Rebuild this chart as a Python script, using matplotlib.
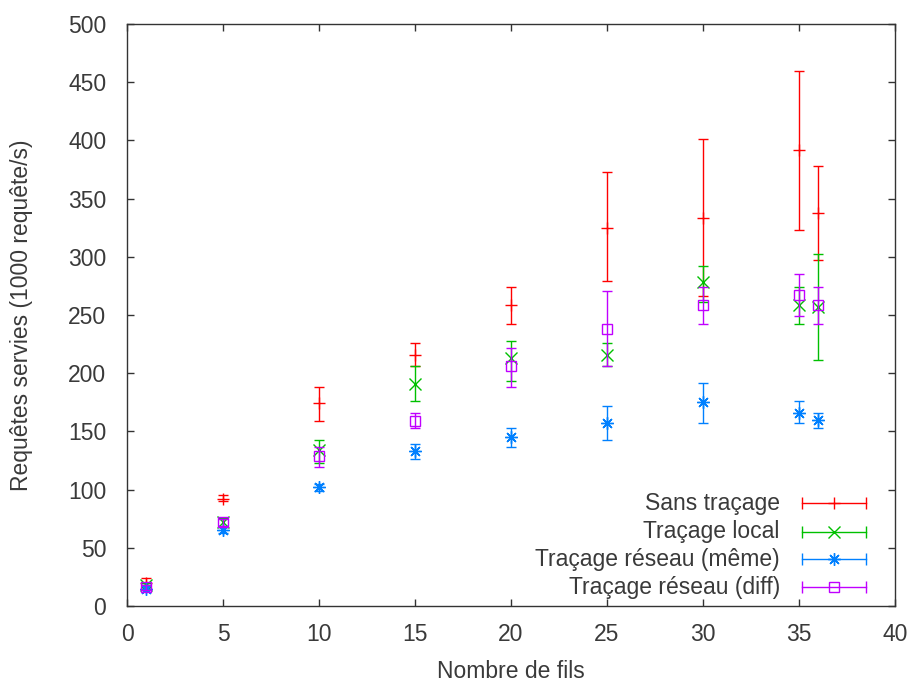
import matplotlib
matplotlib.use('Agg')
import matplotlib.pyplot as plt
import numpy as np

plt.rcParams['font.family'] = ['Liberation Sans', 'DejaVu Sans']

threads = [1, 5, 10, 15, 20, 25, 30, 35, 36]

# Sans traçage
sans = [20, 92, 174, 216, 259, 325, 333, 392, 338]
sans_lo = [17, 90, 159, 206, 242, 279, 266, 323, 297]
sans_hi = [24, 95, 188, 226, 274, 373, 401, 460, 378]

# Traçage local
local = [18, 72, 134, 191, 213, 216, 278, 259, 257]
local_lo = [16, 68, 123, 176, 193, 206, 261, 242, 211]
local_hi = [20, 76, 143, 206, 228, 226, 292, 274, 302]

# Traçage réseau (même)
meme = [15, 65, 102, 133, 145, 157, 175, 166, 160]
meme_lo = [14, 63, 99, 126, 137, 143, 157, 157, 153]
meme_hi = [17, 68, 105, 139, 153, 172, 192, 176, 166]

# Traçage réseau (diff)
diff = [16, 72, 129, 159, 206, 238, 259, 267, 259]
diff_lo = [14, 69, 119, 153, 188, 206, 242, 249, 242]
diff_hi = [18, 75, 137, 166, 222, 271, 274, 285, 274]

labels = ['Sans traçage', 'Traçage local', 'Traçage réseau (même)', 'Traçage réseau (diff)']
colors = ['#ff0000', '#00c000', '#0080ff', '#c000ff']
markers = ['+', 'x', (8, 2, 0), 's']

series = [(sans, sans_lo, sans_hi), (local, local_lo, local_hi),
          (meme, meme_lo, meme_hi), (diff, diff_lo, diff_hi)]

txt = '#3a3a3a'
fs = 16.5

fig = plt.figure(figsize=(9.1, 6.88), dpi=100)
ax = fig.add_axes([0.1396, 0.1192, 0.8439, 0.8459])

for i, (y, lo, hi) in enumerate(series):
    y = np.array(y)
    err = [y - np.array(lo), np.array(hi) - y]
    ax.errorbar(threads, y, yerr=err, fmt='none', ecolor=colors[i],
                elinewidth=1.0, capsize=3.5, capthick=1.0)
    if markers[i] == 's':
        ax.plot(threads, y, linestyle='none', marker='s', markersize=7,
                markerfacecolor='none', markeredgecolor=colors[i], markeredgewidth=1.0)
    else:
        ax.plot(threads, y, linestyle='none', marker=markers[i], markersize=9,
                color=colors[i], markeredgewidth=1.0)

# legend, gnuplot style
rows = [0.1765, 0.1277, 0.0802, 0.0321]
for i in range(4):
    yy = rows[i]
    ax.plot([0.879, 0.962], [yy, yy], color=colors[i], lw=1.0, transform=ax.transAxes, clip_on=False)
    ax.plot([0.879, 0.962], [yy, yy], linestyle='none', marker='|', markersize=8,
            color=colors[i], markeredgewidth=1.0, transform=ax.transAxes)
    if markers[i] == 's':
        ax.plot([0.9206], [yy], linestyle='none', marker='s', markersize=7,
                markerfacecolor='none', markeredgecolor=colors[i], markeredgewidth=1.0,
                transform=ax.transAxes)
    else:
        ax.plot([0.9206], [yy], linestyle='none', marker=markers[i], markersize=9,
                color=colors[i], markeredgewidth=1.0, transform=ax.transAxes)
    ax.text(0.850, yy, labels[i], transform=ax.transAxes, ha='right', va='center',
            fontsize=fs, color=txt)

ax.set_xlim(0, 40)
ax.set_ylim(0, 500)
ax.set_xticks(np.arange(0, 41, 5))
ax.set_yticks(np.arange(0, 501, 50))
ax.tick_params(direction='in', length=5, width=1.0, top=True, right=True,
               labelsize=fs, labelcolor=txt, color='#333333')
ax.tick_params(axis='x', pad=12)
ax.tick_params(axis='y', pad=15)
for s in ax.spines.values():
    s.set_color('#333333')
    s.set_linewidth(1.0)

ax.set_xlabel('Nombre de fils', fontsize=fs, color=txt, labelpad=10)
ax.set_ylabel('Requêtes servies (1000 requête/s)', fontsize=fs, color=txt, labelpad=25)

fig.savefig('out.png', dpi=100)
